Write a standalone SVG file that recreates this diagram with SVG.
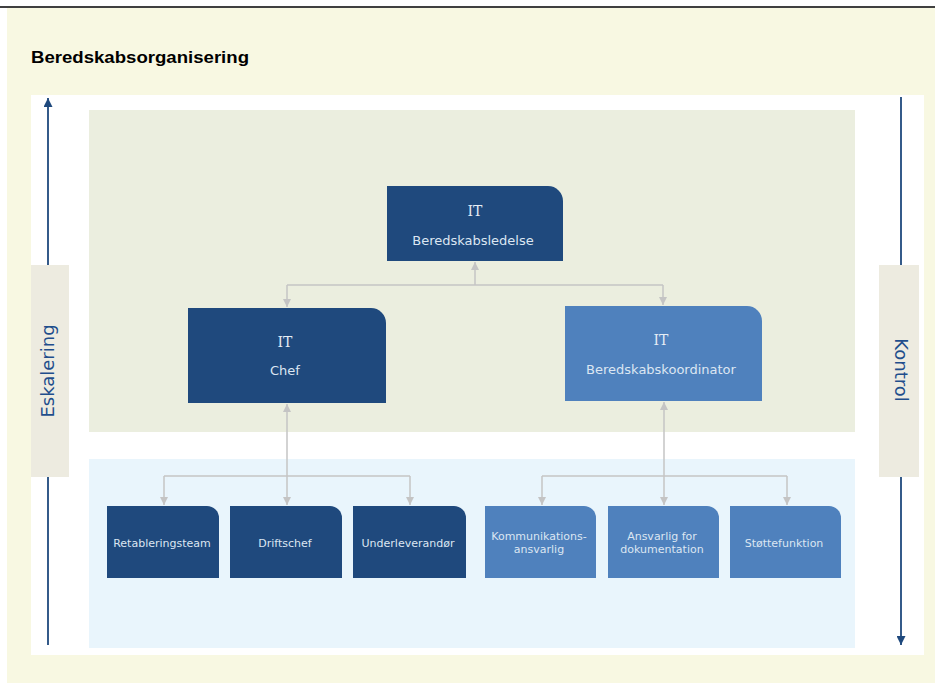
<svg xmlns="http://www.w3.org/2000/svg" width="935" height="684" viewBox="0 0 935 684">
<defs>
<marker id="ga" viewBox="0 0 10 10" refX="10" refY="5" markerWidth="8" markerHeight="8" markerUnits="userSpaceOnUse" orient="auto"><path d="M0,0 L10,5 L0,10 Z" fill="#C4C4C4"/></marker>
<marker id="ba" viewBox="0 0 10 10" refX="10" refY="5" markerWidth="9" markerHeight="9" markerUnits="userSpaceOnUse" orient="auto"><path d="M0,0 L10,5 L0,10 Z" fill="#1F497D"/></marker>
</defs>
<style>
.dk{fill:#1F497D}
.lt{fill:#4F81BD}
.nt{font-family:"DejaVu Sans",Verdana,sans-serif;fill:#DCE6F2;text-anchor:middle}
.it{font-family:"DejaVu Serif","Liberation Serif",serif;fill:#E6EDF5;text-anchor:middle;font-size:14px}
.big{font-size:13px}
.sm{font-size:11px}
.con{fill:none;stroke:#C4C4C4;stroke-width:1.5}
.side{fill:none;stroke:#1F497D;stroke-width:1.8}
.lbl{fill:#EDEBE0}
.lt2{font-family:"DejaVu Sans",Verdana,sans-serif;font-size:18px;fill:#1F4E8C;text-anchor:middle}
</style>
<rect x="0" y="0" width="935" height="684" fill="#FFFFFF"/>
<rect x="7" y="8" width="928" height="675" fill="#F8F8E2"/>
<line x1="0" y1="7" x2="935" y2="7" stroke="#000" stroke-width="1.5"/>
<text x="31" y="63" font-family="Liberation Sans,Arial,sans-serif" font-size="17" font-weight="bold" fill="#000" textLength="218" lengthAdjust="spacingAndGlyphs">Beredskabsorganisering</text>
<rect x="31" y="95" width="893" height="560" fill="#FFFFFF"/>
<rect x="89" y="110" width="766" height="322" fill="#EBEEDF"/>
<rect x="89" y="459" width="766" height="189" fill="#E9F5FC"/>

<g id="side-left">
<line class="side" x1="48" y1="645" x2="48" y2="98" marker-end="url(#ba)"/>
<rect class="lbl" x="31" y="265" width="38" height="212"/>
<text class="lt2" transform="translate(54,371) rotate(-90)">Eskalering</text>
</g>
<g id="side-right">
<line class="side" x1="901" y1="97" x2="901" y2="645" marker-end="url(#ba)"/>
<rect class="lbl" x="879" y="265" width="40" height="212"/>
<text class="lt2" transform="translate(895,370) rotate(90)">Kontrol</text>
</g>

<g id="connectors">
<line class="con" x1="475" y1="285" x2="475" y2="262" marker-end="url(#ga)"/>
<path class="con" d="M287,285 H663"/>
<line class="con" x1="287" y1="285" x2="287" y2="307" marker-end="url(#ga)"/>
<line class="con" x1="663" y1="285" x2="663" y2="305" marker-end="url(#ga)"/>
<line class="con" x1="287" y1="476" x2="287" y2="404" marker-end="url(#ga)"/>
<line class="con" x1="287" y1="476" x2="287" y2="505" marker-end="url(#ga)"/>
<path class="con" d="M164,476 H410"/>
<line class="con" x1="164" y1="476" x2="164" y2="505" marker-end="url(#ga)"/>
<line class="con" x1="410" y1="476" x2="410" y2="505" marker-end="url(#ga)"/>
<line class="con" x1="664" y1="476" x2="664" y2="402" marker-end="url(#ga)"/>
<line class="con" x1="664" y1="476" x2="664" y2="505" marker-end="url(#ga)"/>
<path class="con" d="M542,476 H787"/>
<line class="con" x1="542" y1="476" x2="542" y2="505" marker-end="url(#ga)"/>
<line class="con" x1="787" y1="476" x2="787" y2="505" marker-end="url(#ga)"/>
</g>

<g id="n-ledelse">
<path class="dk" d="M387,186 H548 A15,15 0 0 1 563,201 V261 H387 Z"/>
<text class="it" x="475" y="216">IT</text>
<text class="nt big" x="473" y="245">Beredskabsledelse</text>
</g>
<g id="n-chef">
<path class="dk" d="M188,308 H371 A15,15 0 0 1 386,323 V403 H188 Z"/>
<text class="it" x="285" y="347">IT</text>
<text class="nt big" x="285" y="375">Chef</text>
</g>
<g id="n-koordinator">
<path class="lt" d="M565,306 H747 A15,15 0 0 1 762,321 V401 H565 Z"/>
<text class="it" x="661" y="345">IT</text>
<text class="nt big" x="661" y="374">Beredskabskoordinator</text>
</g>

<g id="n-retablering">
<path class="dk" d="M107,506 H207 A12,12 0 0 1 219,518 V578 H107 Z"/>
<text class="nt sm" x="162" y="547">Retableringsteam</text>
</g>
<g id="n-driftschef">
<path class="dk" d="M230,506 H330 A12,12 0 0 1 342,518 V578 H230 Z"/>
<text class="nt sm" x="285" y="547">Driftschef</text>
</g>
<g id="n-underleverandor">
<path class="dk" d="M353,506 H454 A12,12 0 0 1 466,518 V578 H353 Z"/>
<text class="nt sm" x="408" y="547">Underleverandør</text>
</g>
<g id="n-kommunikation">
<path class="lt" d="M485,506 H584 A12,12 0 0 1 596,518 V578 H485 Z"/>
<text class="nt sm" x="539" y="540">Kommunikations-</text>
<text class="nt sm" x="539" y="553">ansvarlig</text>
</g>
<g id="n-dokumentation">
<path class="lt" d="M608,506 H707 A12,12 0 0 1 719,518 V578 H608 Z"/>
<text class="nt sm" x="662" y="540">Ansvarlig for</text>
<text class="nt sm" x="662" y="553">dokumentation</text>
</g>
<g id="n-stotte">
<path class="lt" d="M730,506 H829 A12,12 0 0 1 841,518 V578 H730 Z"/>
<text class="nt sm" x="784" y="547">Støttefunktion</text>
</g>
</svg>
